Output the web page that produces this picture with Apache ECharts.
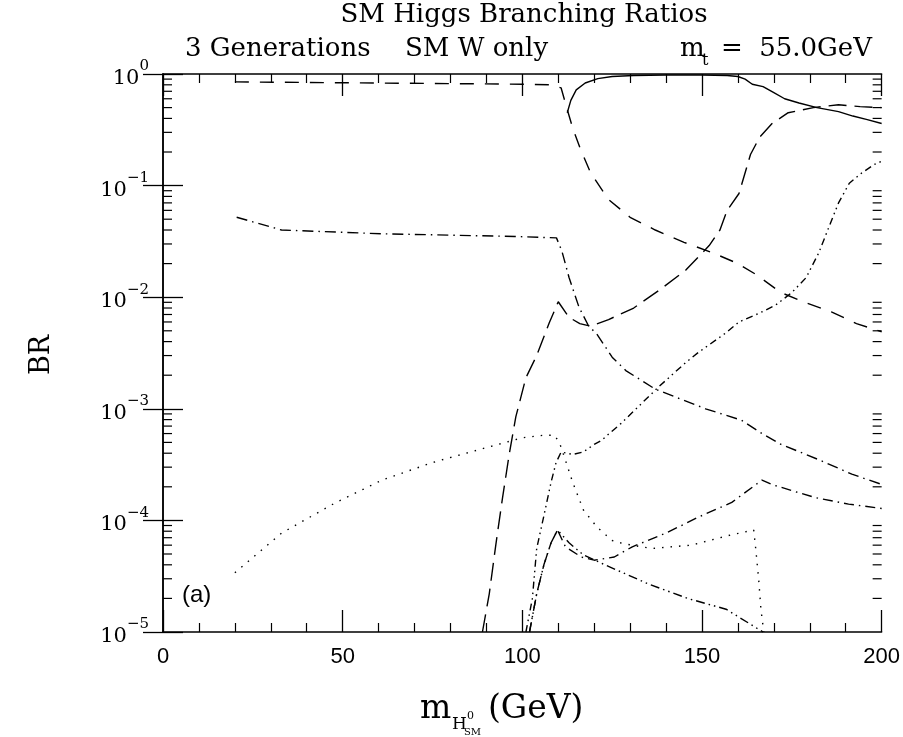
<!DOCTYPE html>
<html>
<head>
<meta charset="utf-8">
<script src="https://cdn.jsdelivr.net/npm/echarts@6/dist/echarts.min.js"></script>
<style>
  html, body { margin: 0; padding: 0; background: #fff; }
  #main { width: 903px; height: 737px; }
</style>
</head>
<body>
<div id="main"></div>
<script>
// 数据：每条曲线的 x (GeV) 和 BR
var solidX = [112.5, 113.5, 115, 117.5, 121, 125, 131, 140, 150, 157, 160, 162, 164, 167, 170, 173, 177, 182, 188, 192, 196, 200];
var solidY = [0.45, 0.58, 0.72, 0.83, 0.91, 0.95, 0.97, 0.98, 0.98, 0.97, 0.95, 0.90, 0.81, 0.77, 0.68, 0.60, 0.55, 0.50, 0.46, 0.42, 0.39, 0.36];

var bbX = [20, 40, 60, 80, 100, 108, 110.8, 112.5, 114, 116, 119, 124, 130, 137, 145, 153, 160, 165, 172, 179, 186, 193, 200];
var bbY = [0.85, 0.84, 0.83, 0.82, 0.81, 0.80, 0.75, 0.48, 0.33, 0.22, 0.13, 0.075, 0.052, 0.040, 0.031, 0.025, 0.020, 0.016, 0.011, 0.0089, 0.0074, 0.0058, 0.0049];

var wwX = [88.9, 90.8, 92.7, 94.5, 96.4, 98.2, 101, 104, 107.5, 110, 113, 116, 119, 124, 131, 138, 145.5, 152, 155, 157, 160.3, 163.5, 166, 169.5, 174, 181, 188, 194, 200];
var wwY = [1e-5, 2.2e-5, 6.3e-5, 1.6e-4, 4e-4, 8.5e-4, 1.9e-3, 3.0e-3, 5.9e-3, 9.1e-3, 6.6e-3, 5.8e-3, 5.5e-3, 6.3e-3, 8e-3, 1.15e-2, 1.75e-2, 2.9e-2, 4.0e-2, 6.0e-2, 8.5e-2, 0.19, 0.27, 0.36, 0.45, 0.50, 0.53, 0.51, 0.50];

var tauX = [20.5, 33, 61, 98, 109.5, 111, 113, 115.8, 118.6, 120.5, 125, 128.8, 137, 151, 161, 166.7, 172, 182.5, 191.7, 200];
var tauY = [0.052, 0.040, 0.037, 0.035, 0.034, 0.026, 0.015, 0.0081, 0.0054, 0.0048, 0.0029, 0.0022, 0.0015, 0.0010, 0.00079, 0.0006, 0.00048, 0.00035, 0.00026, 0.00021];

var zzX = [101, 102.8, 104, 106, 108, 109.4, 110.8, 114, 117, 120, 122, 124.7, 127.5, 138, 145.5, 149, 156.7, 160.3, 166, 170.5, 175, 179, 182.5, 185, 188, 191, 194.5, 198, 200];
var zzY = [1e-5, 2e-5, 5.6e-5, 1.1e-4, 2.2e-4, 3.3e-4, 4.1e-4, 3.9e-4, 4.1e-4, 4.8e-4, 5.2e-4, 6.2e-4, 7.4e-4, 1.58e-3, 2.6e-3, 3.2e-3, 4.8e-3, 6e-3, 7.2e-3, 8.5e-3, 0.011, 0.015, 0.025, 0.04, 0.07, 0.105, 0.13, 0.155, 0.165];

var gamX = [20, 33, 48, 61, 75, 89, 100, 106, 108.9, 110.3, 111.7, 114, 117, 120.8, 125, 128, 136, 147, 158, 164.4, 165, 165.8, 166.4, 167.2];
var gamY = [3.4e-5, 7.7e-5, 1.44e-4, 2.3e-4, 3.3e-4, 4.4e-4, 5.5e-4, 5.8e-4, 5.8e-4, 5.0e-4, 3.7e-4, 2.2e-4, 1.24e-4, 8.7e-5, 6.6e-5, 6.2e-5, 5.6e-5, 6.0e-5, 7.4e-5, 8.2e-5, 5.4e-5, 2.9e-5, 1.6e-5, 1e-5];

var gX = [102, 104, 106, 108, 109.8, 112, 116.4, 120, 125.6, 130.6, 140, 149, 158.3, 166.7, 169.4, 175, 181.6, 190.8, 200];
var gY = [1e-5, 2.2e-5, 4.0e-5, 6.3e-5, 8.2e-5, 5.8e-5, 4.7e-5, 4.4e-5, 4.7e-5, 5.8e-5, 7.7e-5, 1.07e-4, 1.45e-4, 2.3e-4, 2.1e-4, 1.85e-4, 1.6e-4, 1.4e-4, 1.28e-4];

var hX = [102, 104, 106, 108, 109.8, 113, 117, 123, 135, 146, 156.7, 167];
var hY = [1e-5, 2.2e-5, 4.0e-5, 6.3e-5, 8.2e-5, 6.3e-5, 4.9e-5, 4.0e-5, 2.7e-5, 2.0e-5, 1.6e-5, 1.0e-5];

// 刻度
var xTicks = [0, 50, 100, 150, 200];
var yExponents = [0, -1, -2, -3, -4, -5];
var yMinorMantissa = [2, 3, 4, 5, 6, 7, 8, 9];

function pairs(xs, ys) {
  return xs.map(function (x, i) { return [x, ys[i]]; });
}

// 对数轴次刻度 (2..9 × 10^e)，左右各一组
var minorLeft = [];
var minorRight = [];
yExponents.forEach(function (e) {
  if (e === 0) return;
  yMinorMantissa.forEach(function (m) {
    minorLeft.push([10, m * Math.pow(10, e)]);
    minorRight.push([190, m * Math.pow(10, e)]);
  });
});

var serif = '"DejaVu Serif", "Liberation Serif", serif';
var narrow = '"Liberation Sans Narrow", "Liberation Sans", sans-serif';

function line(name, xs, ys, dash) {
  return {
    name: name,
    type: 'line',
    data: pairs(xs, ys),
    showSymbol: false,
    symbol: 'none',
    animation: false,
    lineStyle: { color: '#000', width: 1.4, type: dash, cap: 'butt' },
    z: 3
  };
}

function minorTicks(data, side) {
  return {
    type: 'custom',
    silent: true,
    animation: false,
    data: data,
    z: 10,
    renderItem: function (params, api) {
      var y = api.coord([api.value(0), api.value(1)])[1];
      var cs = params.coordSys;
      var x0 = side === 'left' ? cs.x : cs.x + cs.width - 9;
      return {
        type: 'rect',
        shape: { x: x0, y: y - 0.6, width: 9, height: 1.2 },
        style: { fill: '#000' }
      };
    }
  };
}

function expLabel(v) {
  var e = Math.round(Math.log10(v));
  return '{b|10}{s|' + (e === 0 ? '0' : '−' + (-e)) + '}';
}

var myChart = echarts.init(document.getElementById('main'));
var axisLine = { show: true, lineStyle: { color: '#000', width: 1.5 } };
var option = {
  backgroundColor: '#fff',
  animation: false,
  grid: { left: 163, right: 21, top: 74, bottom: 105, containLabel: false },
  xAxis: [
    {
      type: 'value', position: 'bottom', min: 0, max: 200, interval: 50,
      axisLine: axisLine,
      axisTick: { show: true, inside: true, length: 22, lineStyle: { color: '#000', width: 1.3 } },
      minorTick: { show: true, splitNumber: 5, length: 9, lineStyle: { color: '#000', width: 1.2 } },
      splitLine: { show: false },
      axisLabel: { color: '#000', fontFamily: narrow, fontSize: 22, margin: 14,
        formatter: function (v) { return xTicks.indexOf(v) >= 0 ? String(v) : ''; } }
    },
    {
      type: 'value', position: 'top', min: 0, max: 200, interval: 50,
      axisLine: axisLine,
      axisTick: { show: true, inside: true, length: 22, lineStyle: { color: '#000', width: 1.3 } },
      minorTick: { show: true, splitNumber: 5, length: 9, lineStyle: { color: '#000', width: 1.2 } },
      splitLine: { show: false },
      axisLabel: { show: false }
    }
  ],
  yAxis: [
    {
      type: 'log', logBase: 10, min: 1e-5, max: 1, position: 'left',
      axisLine: axisLine,
      axisTick: { show: true, inside: true, length: 20, lineStyle: { color: '#000', width: 1.3 } },
      splitLine: { show: false },
      axisLabel: {
        color: '#000', margin: 14, formatter: expLabel,
        rich: {
          b: { fontFamily: serif, fontSize: 21, color: '#000', verticalAlign: 'bottom', lineHeight: 30 },
          s: { fontFamily: serif, fontSize: 15, color: '#000', verticalAlign: 'top', lineHeight: 30 }
        }
      }
    },
    {
      type: 'log', logBase: 10, min: 1e-5, max: 1, position: 'right',
      axisLine: axisLine,
      axisTick: { show: true, inside: true, length: 20, lineStyle: { color: '#000', width: 1.3 } },
      splitLine: { show: false },
      axisLabel: { show: false }
    }
  ],
  graphic: [
    { type: 'text', x: 524, y: 28, style: { text: 'SM Higgs Branching Ratios', font: '26px ' + serif, fill: '#000', textAlign: 'center', textVerticalAlign: 'bottom' } },
    { type: 'text', x: 185, y: 62, style: { text: '3 Generations', font: '26px ' + serif, fill: '#000', textVerticalAlign: 'bottom' } },
    { type: 'text', x: 405, y: 62, style: { text: 'SM W only', font: '26px ' + serif, fill: '#000', textVerticalAlign: 'bottom' } },
    { type: 'text', x: 680, y: 62, style: { text: 'm', font: '26px ' + serif, fill: '#000', textVerticalAlign: 'bottom' } },
    { type: 'text', x: 702, y: 69, style: { text: 't', font: '16px ' + serif, fill: '#000', textVerticalAlign: 'bottom' } },
    { type: 'text', x: 721, y: 62, style: { text: '=', font: '26px ' + serif, fill: '#000', textVerticalAlign: 'bottom' } },
    { type: 'text', x: 872, y: 62, style: { text: '55.0GeV', font: '26px ' + serif, fill: '#000', textAlign: 'right', textVerticalAlign: 'bottom' } },
    { type: 'text', x: 42, y: 355, rotation: Math.PI / 2, style: { text: 'BR', font: '27px ' + serif, fill: '#000', textAlign: 'center', textVerticalAlign: 'middle' } },
    { type: 'text', x: 420, y: 726, style: { text: 'm', font: '33px ' + serif, fill: '#000', textVerticalAlign: 'bottom' } },
    { type: 'text', x: 452, y: 733, style: { text: 'H', font: '17px ' + serif, fill: '#000', textVerticalAlign: 'bottom' } },
    { type: 'text', x: 467, y: 722, style: { text: '0', font: '11px ' + serif, fill: '#000', textVerticalAlign: 'bottom' } },
    { type: 'text', x: 464, y: 737, style: { text: 'SM', font: '10px ' + serif, fill: '#000', textVerticalAlign: 'bottom' } },
    { type: 'text', x: 488, y: 726, style: { text: '(GeV)', font: '33px ' + serif, fill: '#000', textVerticalAlign: 'bottom' } },
    { type: 'text', x: 182, y: 583, style: { text: '(a)', font: '24px "Liberation Sans", sans-serif', fill: '#000' } }
  ],
  series: [
    line('solid', solidX, solidY, 'solid'),
    line('bb', bbX, bbY, [14, 11]),
    line('ww', wwX, wwY, [18, 8]),
    line('tau', tauX, tauY, [11, 5, 1.5, 5]),
    line('zz', zzX, zzY, [7, 4, 1.5, 4, 1.5, 4]),
    line('gamma', gamX, gamY, [1.5, 7]),
    line('g', gX, gY, [10, 5, 1.5, 5]),
    line('h', hX, hY, [9, 4, 1.5, 4, 1.5, 4]),
    minorTicks(minorLeft, 'left'),
    minorTicks(minorRight, 'right')
  ]
};
myChart.setOption(option);
</script>
</body>
</html>
